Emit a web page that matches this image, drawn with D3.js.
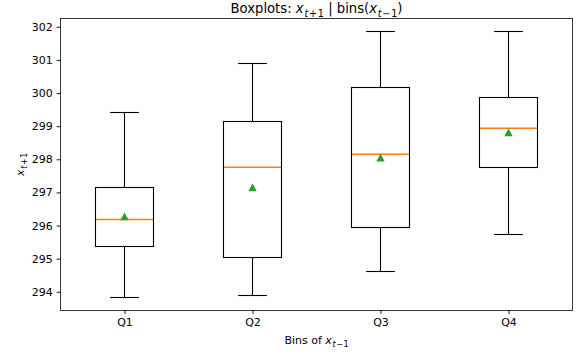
<!DOCTYPE html>
<html>
<head>
<meta charset="utf-8">
<script src="https://cdn.jsdelivr.net/npm/d3@7"></script>
<style>
  body { margin: 0; background: #fff; }
  svg { display: block; font-family: "DejaVu Sans", sans-serif; }
</style>
</head>
<body>
<svg id="chart" width="579" height="358"></svg>
<script>
const categories = ["Q1", "Q2", "Q3", "Q4"];
const whiskerLow  = [293.83, 293.90, 294.60, 295.74];
const q1Values    = [295.37, 295.02, 295.94, 297.74];
const medians     = [296.18, 297.76, 298.15, 298.94];
const q3Values    = [297.14, 299.15, 300.18, 299.85];
const whiskerHigh = [299.41, 300.90, 301.85, 301.85];
const means       = [296.27, 297.15, 298.05, 298.81];
const yTicks      = [294, 295, 296, 297, 298, 299, 300, 301, 302];

const svg = d3.select("#chart");
const L = 60.5, R = 572.5, T = 18.5, B = 310;

const x = d3.scaleLinear().domain([0.5, 4.5]).range([L, R]);
const y = d3.scaleLinear().domain([293.45, 302.25]).range([B, T]);

const boxW = x(1.45) - x(1);
const capW = x(1.225) - x(1);

const data = categories.map((c, i) => ({
  c, i: i + 1, lo: whiskerLow[i], q1: q1Values[i], med: medians[i],
  q3: q3Values[i], hi: whiskerHigh[i], mean: means[i]
}));

const g = svg.append("g");
const snap = v => Math.round(v - 0.5) + 0.5;

data.forEach(d => {
  const cx = snap(x(d.i));
  const yHi = snap(y(d.hi)), yLo = snap(y(d.lo)), yQ1 = snap(y(d.q1)), yQ3 = snap(y(d.q3));
  const bx0 = snap(x(d.i) - boxW / 2), bx1 = snap(x(d.i) + boxW / 2);
  const stroke = (sel, c, w) => sel.attr("stroke", c || "#000").attr("stroke-width", w || 1.1);
  // whiskers
  stroke(g.append("line").attr("x1", cx).attr("x2", cx).attr("y1", yQ3).attr("y2", yHi));
  stroke(g.append("line").attr("x1", cx).attr("x2", cx).attr("y1", yQ1).attr("y2", yLo));
  // caps
  stroke(g.append("line").attr("x1", cx - capW / 2).attr("x2", cx + capW / 2).attr("y1", yHi).attr("y2", yHi));
  stroke(g.append("line").attr("x1", cx - capW / 2).attr("x2", cx + capW / 2).attr("y1", yLo).attr("y2", yLo));
  // box
  stroke(g.append("rect").attr("x", bx0).attr("width", bx1 - bx0)
    .attr("y", yQ3).attr("height", yQ1 - yQ3).attr("fill", "none"));
  // median
  stroke(g.append("line").attr("x1", bx0 + 0.5).attr("x2", bx1 - 0.5)
    .attr("y1", y(d.med)).attr("y2", y(d.med)), "#ff7f0e", 1.5);
  // mean triangle
  const my = y(d.mean), mx = x(d.i), s = 4.2;
  g.append("path")
    .attr("d", `M${mx},${my - s}L${mx + s},${my + s * 0.9}L${mx - s},${my + s * 0.9}Z`)
    .attr("fill", "#2ca02c");
});

// spines
svg.append("rect").attr("x", L).attr("y", T).attr("width", R - L).attr("height", B - T + 0.5)
  .attr("fill", "none").attr("stroke", "#222").attr("stroke-width", 0.9);

// y axis
const yAxis = svg.append("g").attr("transform", `translate(${L},0)`)
  .call(d3.axisLeft(y).tickValues(yTicks).tickSize(3.9).tickPadding(3.9).tickFormat(d3.format("d")));
yAxis.select(".domain").remove();
yAxis.selectAll("text").attr("font-size", 11).attr("font-family", "DejaVu Sans").attr("fill", "#000");
yAxis.selectAll("line").attr("stroke", "#000").attr("stroke-width", 0.9);

// x axis
const xAxis = svg.append("g").attr("transform", `translate(0,${B})`)
  .call(d3.axisBottom(x).tickValues([1, 2, 3, 4]).tickSize(3.9).tickPadding(3.9)
    .tickFormat(d => categories[d - 1]));
xAxis.select(".domain").remove();
xAxis.selectAll("text").attr("font-size", 11).attr("font-family", "DejaVu Sans").attr("fill", "#000");
xAxis.selectAll("line").attr("stroke", "#000").attr("stroke-width", 0.9);

// helper for math text
function mathText(sel, parts) {
  parts.forEach(p => {
    const t = sel.append("tspan").text(p.t);
    if (p.it) t.attr("font-style", "italic");
    if (p.sub) t.attr("font-size", p.size).attr("baseline-shift", p.shift);
    if (p.dx) t.attr("dx", p.dx);
  });
}

// title
const title = svg.append("text").attr("x", (L + R) / 2).attr("y", 12.5)
  .attr("text-anchor", "middle").attr("font-size", 13.2).attr("fill", "#000");
mathText(title, [
  { t: "Boxplots: " },
  { t: "x", it: true },
  { t: "t", it: true, sub: true, size: 9.6, shift: "-3.5", dx: 0.8 },
  { t: "+", sub: true, size: 9.6, shift: "-3.5", dx: 0.8 },
  { t: "1", sub: true, size: 9.6, shift: "-3.5", dx: 0.8 },
  { t: " | bins(" },
  { t: "x", it: true },
  { t: "t", it: true, sub: true, size: 9.6, shift: "-3.5", dx: 0.8 },
  { t: "\u2212", sub: true, size: 9.6, shift: "-3.5", dx: 0.8 },
  { t: "1", sub: true, size: 9.6, shift: "-3.5", dx: 0.8 },
  { t: ")" }
]);

// x label
const xl = svg.append("text").attr("x", (L + R) / 2).attr("y", 344)
  .attr("text-anchor", "middle").attr("font-size", 11).attr("fill", "#000");
mathText(xl, [
  { t: "Bins of " },
  { t: "x", it: true },
  { t: "t", it: true, sub: true, size: 8, shift: "-3", dx: 0.6 },
  { t: "\u2212", sub: true, size: 8, shift: "-3", dx: 0.6 },
  { t: "1", sub: true, size: 8, shift: "-3", dx: 0.6 }
]);

// y label
const yl = svg.append("text").attr("transform", `translate(24,${(T + B) / 2}) rotate(-90)`)
  .attr("text-anchor", "middle").attr("font-size", 11).attr("fill", "#000");
mathText(yl, [
  { t: "x", it: true },
  { t: "t", it: true, sub: true, size: 8, shift: "-3", dx: 0.6 },
  { t: "+", sub: true, size: 8, shift: "-3", dx: 0.6 },
  { t: "1", sub: true, size: 8, shift: "-3", dx: 0.6 }
]);
</script>
</body>
</html>
